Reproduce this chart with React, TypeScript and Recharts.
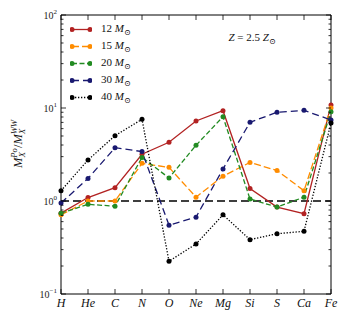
import { LineChart, Line, XAxis, YAxis, ReferenceLine, Legend } from 'recharts'

const elements = ['H', 'He', 'C', 'N', 'O', 'Ne', 'Mg', 'Si', 'S', 'Ca', 'Fe']
const m12 = [0.74, 1.09, 1.39, 3.18, 4.28, 7.25, 9.35, 1.36, 0.86, 0.73, 10.8]
const m15 = [0.71, 1.0, 1.0, 2.54, 2.3, 1.1, 1.85, 2.6, 2.13, 1.29, 10.0]
const m20 = [0.74, 0.92, 0.88, 2.94, 1.77, 3.97, 8.06, 1.05, 0.86, 1.1, 9.1]
const m30 = [0.95, 1.75, 3.74, 3.4, 0.55, 0.67, 2.21, 7.02, 8.99, 9.44, 7.43]
const m40 = [1.29, 2.76, 5.04, 7.56, 0.225, 0.345, 0.71, 0.384, 0.445, 0.472, 6.9]
const massLabels = ['12', '15', '20', '30', '40']

const yTicks = [
  0.1, 0.2, 0.3, 0.4, 0.5, 0.6, 0.7, 0.8, 0.9,
  1, 2, 3, 4, 5, 6, 7, 8, 9,
  10, 20, 30, 40, 50, 60, 70, 80, 90, 100,
]
const xTicks = elements.map((_, i) => i)

const data = elements.map((el, i) => ({
  i, el, m12: m12[i], m15: m15[i], m20: m20[i], m30: m30[i], m40: m40[i],
}))

const series = [
  { key: 'm12', color: '#b22222', dash: undefined },
  { key: 'm15', color: '#ff8c00', dash: '7 3' },
  { key: 'm20', color: '#228b22', dash: '5 2.5' },
  { key: 'm30', color: '#191970', dash: '7 4' },
  { key: 'm40', color: '#000000', dash: '1.3 1.7' },
]

const serif = '"Liberation Serif", "DejaVu Serif", serif'

const isMajor = (v: number) => Math.abs(Math.log10(v) - Math.round(Math.log10(v))) < 1e-6

const BottomTick = ({ x, y, payload }: any) => (
  <g>
    <line x1={x} x2={x} y1={y} y2={y - 5} stroke="#000" strokeWidth={0.8} />
    <text x={x} y={y + 13} textAnchor="middle" fontFamily={serif} fontStyle="italic" fontSize={12} fill="#111">
      {elements[payload.value]}
    </text>
  </g>
)

const TopTick = ({ x, y }: any) => (
  <line x1={x} x2={x} y1={y} y2={y + 5} stroke="#000" strokeWidth={0.8} />
)

const LeftTick = ({ x, y, payload }: any) => {
  const v = payload.value
  const major = isMajor(v)
  const exp = Math.round(Math.log10(v))
  return (
    <g>
      <line x1={x} x2={x + (major ? 5 : 2.5)} y1={y} y2={y} stroke="#000" strokeWidth={0.8} />
      {major && (
        <text x={x - 4} y={y + 3.5} textAnchor="end" fontFamily={serif} fontSize={10} fill="#222">
          10
          <tspan dy={-4.5} fontSize={7}>{exp < 0 ? '\u2212' + Math.abs(exp) : exp}</tspan>
        </text>
      )}
    </g>
  )
}

const RightTick = ({ x, y, payload }: any) => {
  const major = isMajor(payload.value)
  return <line x1={x} x2={x - (major ? 5 : 2.5)} y1={y} y2={y} stroke="#000" strokeWidth={0.8} />
}

const LegendBox = () => (
  <div style={{ fontFamily: serif, fontSize: 11, color: '#111' }}>
    {series.map((s, k) => (
      <div key={s.key} style={{ display: 'flex', alignItems: 'center', height: 17 }}>
        <svg width={22} height={17}>
          <line x1={2} x2={20} y1={8.5} y2={8.5} stroke={s.color} strokeWidth={1.3} strokeDasharray={s.dash} />
          <circle cx={2} cy={8.5} r={2.5} fill={s.color} />
          <circle cx={20} cy={8.5} r={2.5} fill={s.color} />
        </svg>
        <span style={{ marginLeft: 9, whiteSpace: 'nowrap' }}>
          {massLabels[k]} <i>M</i>
          <sub style={{ fontSize: 8 }}>{'\u2299'}</sub>
        </span>
      </div>
    ))}
  </div>
)

export default function App() {
  return (
    <div style={{ position: 'absolute', left: 0, top: 0, width: 349, height: 320, background: '#fff' }}>
      <LineChart width={349} height={320} data={data} margin={{ top: 14, right: 16, bottom: 6, left: 21 }}>
        <XAxis
          xAxisId="b"
          dataKey="i"
          type="number"
          domain={[0, 10]}
          ticks={xTicks}
          interval={0}
          height={20}
          tickSize={0}
          tickMargin={0}
          tickLine={false}
          axisLine={{ stroke: '#000', strokeWidth: 1 }}
          tick={<BottomTick />}
        />
        <XAxis
          xAxisId="t"
          orientation="top"
          type="number"
          domain={[0, 10]}
          ticks={xTicks}
          interval={0}
          height={1}
          tickSize={0}
          tickMargin={0}
          tickLine={false}
          axisLine={{ stroke: '#000', strokeWidth: 1 }}
          tick={<TopTick />}
        />
        <YAxis
          yAxisId="l"
          scale="log"
          type="number"
          domain={[0.1, 100]}
          allowDataOverflow
          ticks={yTicks}
          interval={0}
          width={40}
          tickSize={0}
          tickMargin={0}
          tickLine={false}
          axisLine={{ stroke: '#000', strokeWidth: 1 }}
          tick={<LeftTick />}
        />
        <YAxis
          yAxisId="r"
          orientation="right"
          scale="log"
          type="number"
          domain={[0.1, 100]}
          allowDataOverflow
          ticks={yTicks}
          interval={0}
          width={2}
          tickSize={0}
          tickMargin={0}
          tickLine={false}
          axisLine={{ stroke: '#000', strokeWidth: 1 }}
          tick={<RightTick />}
        />
        <ReferenceLine xAxisId="b" yAxisId="l" y={1} stroke="#000" strokeWidth={1.4} strokeDasharray="8 4" />
        {series.map((s) => (
          <Line
            key={s.key}
            xAxisId="b"
            yAxisId="l"
            dataKey={s.key}
            stroke={s.color}
            strokeWidth={1.3}
            strokeDasharray={s.dash}
            dot={{ r: 2.5, fill: s.color, stroke: s.color, strokeWidth: 0, strokeDasharray: '' }}
            isAnimationActive={false}
          />
        ))}
        <Legend
          layout="horizontal"
          verticalAlign="middle"
          align="center"
          content={<LegendBox />}
          wrapperStyle={{ position: 'absolute', left: 70, top: 21, width: 'auto', height: 'auto' }}
        />
      </LineChart>
      <svg width={349} height={320} style={{ position: 'absolute', left: 0, top: 0, pointerEvents: 'none' }}>
        <text x={252} y={41} textAnchor="middle" fontFamily={serif} fontSize={11} fill="#111">
          <tspan fontStyle="italic">Z</tspan> = 2.5 <tspan fontStyle="italic">Z</tspan>
          <tspan dy={3} fontSize={8}>{'\u2299'}</tspan>
        </text>
        <text
          x={22}
          y={144}
          textAnchor="middle"
          fontFamily={serif}
          fontSize={12.5}
          fill="#111"
          transform="rotate(-90 22 144)"
        >
          <tspan fontStyle="italic">M</tspan>
          <tspan dy={-5} fontSize={8.5} fontStyle="italic">Po</tspan>
          <tspan dx={-9} dy={8} fontSize={8.5} fontStyle="italic">X</tspan>
          <tspan dx={4} dy={-3}>/</tspan>
          <tspan fontStyle="italic">M</tspan>
          <tspan dy={-5} fontSize={8.5} fontStyle="italic">WW</tspan>
          <tspan dx={-14} dy={8} fontSize={8.5} fontStyle="italic">X</tspan>
        </text>
      </svg>
    </div>
  )
}
